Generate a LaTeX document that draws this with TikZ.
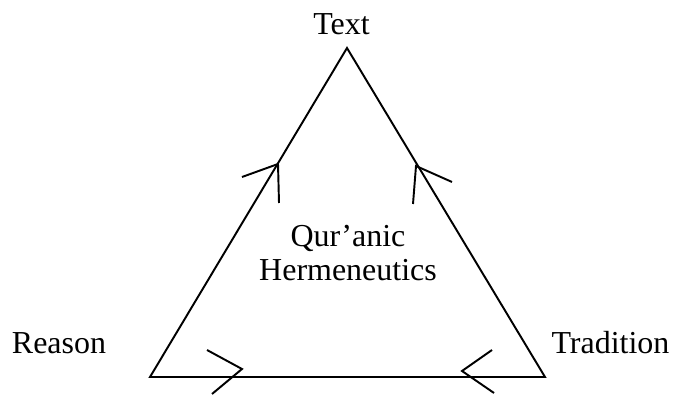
\documentclass[tikz,border=0pt]{standalone}
\usepackage{fontspec}
\setmainfont{Liberation Serif}
\usepackage{tikz}
\tikzset{
  edge line/.style={
    line width=1.1pt,        % triangle and arrow line thickness
    line join=miter,
  },
  corner label/.style={
    anchor=base, inner sep=0pt,
    font=\fontsize{18.2}{19.6}\selectfont,
  }
}

\begin{document}
\begin{tikzpicture}[x=0.02cm, y=-0.02cm]
    \useasboundingbox (0,0) rectangle (673,398);

    % Corners of the triangle
    \coordinate (top)   at (347,48);
    \coordinate (left)  at (150,377);
    \coordinate (right) at (545,377);

    % The triangle itself
    \draw[edge line] (left) -- (top) -- (right) -- cycle;

    % Labels at the corners
    \node[corner label] (text)      at (341.5,35) {Text};
    \node[corner label] (reason)    at (59,354)   {Reason};
    \node[corner label] (tradition) at (610.5,354) {Tradition};

    % Label in the middle
    \node[corner label, anchor=center, align=center] (hermeneutics) at (348,253)
        {Qur'anic\\Hermeneutics};

    % Open arrow heads drawn by hand
    % left side (pointing up)
    \draw[edge line] (242,177) -- (278,164) -- (279,203);
    % right side (pointing up)
    \draw[edge line] (452,182) -- (416,166) -- (413,204);
    % bottom (pointing right, then left)
    \draw[edge line] (207,350) -- (242,369) -- (212,394);
    \draw[edge line] (492,350) -- (462,371) -- (494,393);
\end{tikzpicture}
\end{document}
